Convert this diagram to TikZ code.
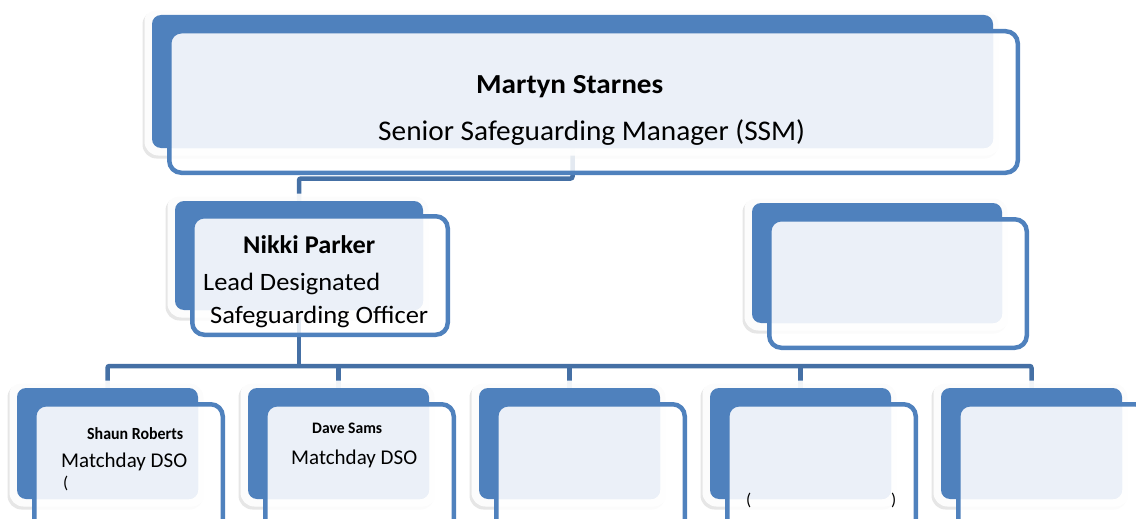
\documentclass[tikz,border=0pt]{standalone}
\usepackage{fontspec}
\setmainfont{Carlito}
\usetikzlibrary{fit,shadows}
\definecolor{cardblue}{HTML}{4F81BD}
\definecolor{cardlight}{HTML}{EBF0F8}
\definecolor{connblue}{HTML}{4570A5}
\pgfdeclarelayer{bg}
\pgfsetlayers{bg,main}
\tikzset{
  frame/.style={fill=white, fill opacity=0.92, rounded corners=14pt,
    drop shadow={shadow xshift=-2pt, shadow yshift=-3pt, opacity=0.2}},
  bluebox/.style={fill=cardblue, rounded corners=9pt, inner sep=0pt, draw=none},
  frontfill/.style={fill=white, fill opacity=0.85, rounded corners=12pt},
  frontbox/.style={draw=cardblue, line width=4.5pt, rounded corners=12pt, inner sep=0pt},
  conn/.style={draw=connblue, line width=4.5pt, rounded corners=2pt},
  lbl/.style={inner sep=0pt, anchor=base west, text=black},
}
\newcommand\fitw[2]{\resizebox{#1}{\height}{#2}}
% #1 name; #2-#5 blue back box (x1,y1,x2,y2); #6-#9 front box border centre line
\newcommand\card[9]{%
  \path[frame] (#2-7.5,#3-7.5) rectangle (#4+7.5,#5+7.5);
  \node[bluebox, fit={(#2,#3)(#4,#5)}] (#1) {};
  \path[frontfill] (#6,#7) rectangle (#8,#9);
  \begin{scope}
    \clip[rounded corners=10pt] (#6+2.25,#7+2.25) rectangle (#8-2.25,#9-2.25);
    \fill[cardlight, rounded corners=9pt] (#2,#3) rectangle (#4,#5);
  \end{scope}
  \node[frontbox, fit={(#6,#7)(#8,#9)}] (#1f) {};
}
\begin{document}
\begin{tikzpicture}[x=1pt, y=-1pt]
\useasboundingbox (0,0) rectangle (1136,519);
\clip (0,0) rectangle (1136,519);

\card{tb}{152}{15}{993}{148}{169.25}{31.25}{1017.75}{172.75}
\card{np}{175}{201}{423}{310}{192.25}{216.25}{447.75}{334.75}
\card{rc}{752}{203}{1002}{323}{769.25}{219.25}{1026.75}{347.75}
\card{c1}{17}{388}{198}{499}{34.25}{404.25}{222.75}{540}
\card{c2}{248}{388}{429}{499}{265.25}{404.25}{453.75}{540}
\card{c3}{479}{388}{660}{499}{496.25}{404.25}{684.75}{540}
\card{c4}{710}{388}{891}{499}{727.25}{404.25}{915.75}{540}
\card{c5}{941}{388}{1122}{499}{958.25}{404.25}{1146.75}{540}

\coordinate (h1) at (0,178.5);
\coordinate (h2) at (0,366);
\begin{pgfonlayer}{bg}
  \draw[conn] (tb.south) -- (tb.south |- h1) -| (np.north);
  \draw[conn] (np.south) -- (np.south |- h2);
  \draw[conn] (c1.north) -- (c1.north |- h2) -- (c5.north |- h2) -- (c5.north);
  \foreach \n in {c2,c3,c4} \draw[conn] (\n.north) -- (\n.north |- h2);
\end{pgfonlayer}

\node[lbl] (t1) at (476,93) {\fitw{187pt}{\bfseries\fontsize{27.5}{30}\selectfont Martyn Starnes}};
\node[lbl] (t2) at (378,140) {\fitw{427pt}{\fontsize{28.5}{30}\selectfont Senior Safeguarding Manager (SSM)}};
\node[lbl] (t3) at (243,253) {\fitw{132pt}{\bfseries\fontsize{25.5}{28}\selectfont Nikki Parker}};
\node[lbl] (t4) at (203,290) {\fitw{177pt}{\fontsize{25}{28}\selectfont Lead Designated}};
\node[lbl] (t5) at (210,323) {\fitw{218pt}{\fontsize{25}{28}\selectfont Safeguarding Officer}};
\node[lbl] (t6) at (87,439) {\fitw{96pt}{\bfseries\fontsize{17}{19}\selectfont Shaun Roberts}};
\node[lbl] (t7) at (61,467) {\fitw{126pt}{\fontsize{21}{23}\selectfont Matchday DSO}};
\node[lbl] (t8) at (63,488) {\fontsize{17}{19}\selectfont (};
\node[lbl] (t9) at (312,433) {\fitw{70pt}{\bfseries\fontsize{16}{17}\selectfont Dave Sams}};
\node[lbl] (t10) at (291,464) {\fitw{126pt}{\fontsize{21}{23}\selectfont Matchday DSO}};
\node[lbl] (t11) at (746,505) {\fontsize{17}{19}\selectfont (};
\node[lbl] (t12) at (891,505) {\fontsize{17}{19}\selectfont )};
\end{tikzpicture}
\end{document}
